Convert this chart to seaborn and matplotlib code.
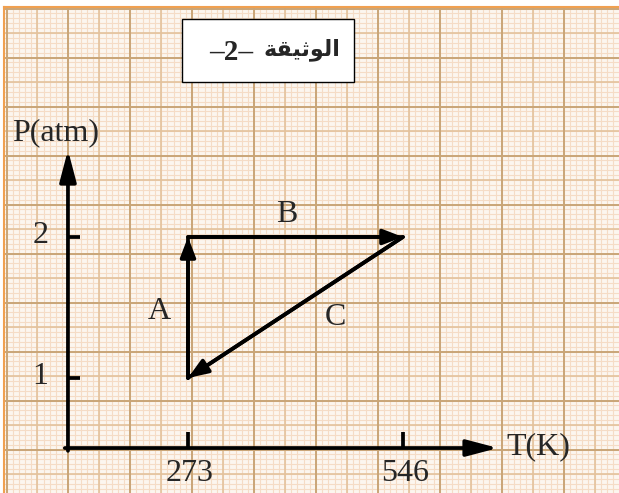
import numpy as np
import pandas as pd
import matplotlib
matplotlib.use("Agg")
import matplotlib.pyplot as plt
import seaborn as sns
from matplotlib.patches import Rectangle

# ---- data -------------------------------------------------------------
T = [273, 273, 546, 273]          # temperature of successive states (K)
P = [1, 2, 2, 1]                  # pressure of successive states (atm)
segment_labels = ["A", "B", "C"]
x_ticks = [273, 546]
y_ticks = [1, 2]
x_label = "T(K)"
y_label = "P(atm)"
TITLE_WORD = "الوثيقة"
TITLE_NUM = "–2–"

# ---- minimal Arabic shaping (presentation forms, visual order) ----------
FORMS = {  # isolated, final, initial, medial
    "ا": ("\uFE8D", "\uFE8E", None, None),
    "ل": ("\uFEDD", "\uFEDE", "\uFEDF", "\uFEE0"),
    "و": ("\uFEED", "\uFEEE", None, None),
    "ث": ("\uFE99", "\uFE9A", "\uFE9B", "\uFE9C"),
    "ي": ("\uFEF1", "\uFEF2", "\uFEF3", "\uFEF4"),
    "ق": ("\uFED5", "\uFED6", "\uFED7", "\uFED8"),
    "ة": ("\uFE93", "\uFE94", None, None),
}


def shape_word(w):
    out = []
    for i, ch in enumerate(w):
        if ch not in FORMS:
            out.append(ch)
            continue
        prev = w[i - 1] if i > 0 else None
        nxt = w[i + 1] if i + 1 < len(w) else None
        jp = prev in FORMS and FORMS[prev][2] is not None
        jn = nxt in FORMS and FORMS[ch][2] is not None
        iso, fin, ini, med = FORMS[ch]
        out.append(med if (jp and jn) else fin if jp else ini if jn else iso)
    return "".join(out[::-1])


# ---- style ------------------------------------------------------------
sns.set_style("white")
plt.rcParams["font.family"] = ["Liberation Serif", "DejaVu Sans"]

W, H = 619, 493
fig = plt.figure(figsize=(W / 100, H / 100), dpi=100, facecolor="white")

# graph-paper background (pixel coordinates)
bg = fig.add_axes([4 / W, 0, (W - 4) / W, (H - 7) / H])
bg.set_xlim(4, W)
bg.set_ylim(H, 7)
bg.set_facecolor("#fcf6ef")
bg.vlines(np.arange(6.5, W, 6.19), 7, H, color="#f5dcc6", lw=0.8)
bg.hlines(np.arange(8.5, H, 4.9), 4, W, color="#f5dcc6", lw=0.8)
bg.vlines(np.arange(37.45, W, 61.9), 7, H, color="#e3c29c", lw=1.2)
bg.hlines(np.arange(33.0, H, 49.0), 4, W, color="#e3c29c", lw=1.2)
bg.vlines(np.arange(6.5, W, 61.9), 7, H, color="#c9a577", lw=1.4)
bg.hlines(np.arange(8.5, H, 49.0), 4, W, color="#c9a577", lw=1.4)
bg.set_xticks([])
bg.set_yticks([])
for s in ["right", "bottom"]:
    bg.spines[s].set_visible(False)
for s in ["top", "left"]:
    bg.spines[s].set_color("#f0a050")
    bg.spines[s].set_linewidth(1.5)

bg.add_patch(Rectangle((182, 19), 172, 63, facecolor="white",
                       edgecolor="black", lw=1.0, zorder=5))
bg.text(253, 52, TITLE_NUM, ha="right", va="center", fontsize=21,
        fontweight="bold", zorder=6)
bg.text(301.5, 50, shape_word(TITLE_WORD), ha="center", va="center",
        fontsize=16, fontweight="bold", family="DejaVu Sans", zorder=6)

# ---- main diagram -----------------------------------------------------
ax = fig.add_axes([0, 0, 1, 1])
ax.set_facecolor("none")
ax.set_xlim(34.3, 820.3)
ax.set_ylim(0.184, 3.681)
ax.set_axis_off()

T0, P0 = 120.6, 0.503      # where the drawn axes cross
T_end, P_end = 666.7, 2.617

LW = 2.7
ax_arrow = dict(arrowstyle="-|>,head_length=0.95,head_width=0.25",
                mutation_scale=20, lw=LW, color="black",
                shrinkA=0, shrinkB=0)
ax.annotate("", xy=(T_end, P0), xytext=(T0 - 4, P0), arrowprops=ax_arrow)
ax.annotate("", xy=(T0, P_end), xytext=(T0, P0 - 0.02), arrowprops=ax_arrow)

ax.vlines(x_ticks, P0, P0 + 0.113, lw=LW, color="black")
ax.hlines(y_ticks, T0, T0 + 15.2, lw=LW, color="black")

for t in x_ticks:
    ax.annotate(f"{t}", (t, P0), xytext=(1.5, -18), textcoords="offset points",
                ha="center", va="center", fontsize=23)
for p in y_ticks:
    ax.annotate(f"{p}", (T0, p), xytext=(-20, 1), textcoords="offset points",
                ha="center", va="center", fontsize=23)

ax.text(50, 2.738, y_label, ha="left", va="center", fontsize=23)
ax.text(677, P0 + 0.01, x_label, ha="left", va="center", fontsize=23)

df = pd.DataFrame({"T": T, "P": P})
sns.lineplot(data=df, x="T", y="P", sort=False, estimator=None,
             color="black", lw=LW, ax=ax, legend=False)

seg_arrow = dict(arrowstyle="-|>,head_length=0.6,head_width=0.23",
                 mutation_scale=20, lw=LW, color="black",
                 shrinkA=0, shrinkB=0)
for i in range(len(T) - 1):
    ax.annotate("", xy=(T[i + 1], P[i + 1]), xytext=(T[i], P[i]),
                arrowprops=seg_arrow)

label_pos = [(237, 1.47), (399, 2.16), (460, 1.43)]
for lab, (lx, ly) in zip(segment_labels, label_pos):
    ax.text(lx, ly, lab, ha="center", va="center", fontsize=23)

fig.savefig("out.png", dpi=100, facecolor="white")
